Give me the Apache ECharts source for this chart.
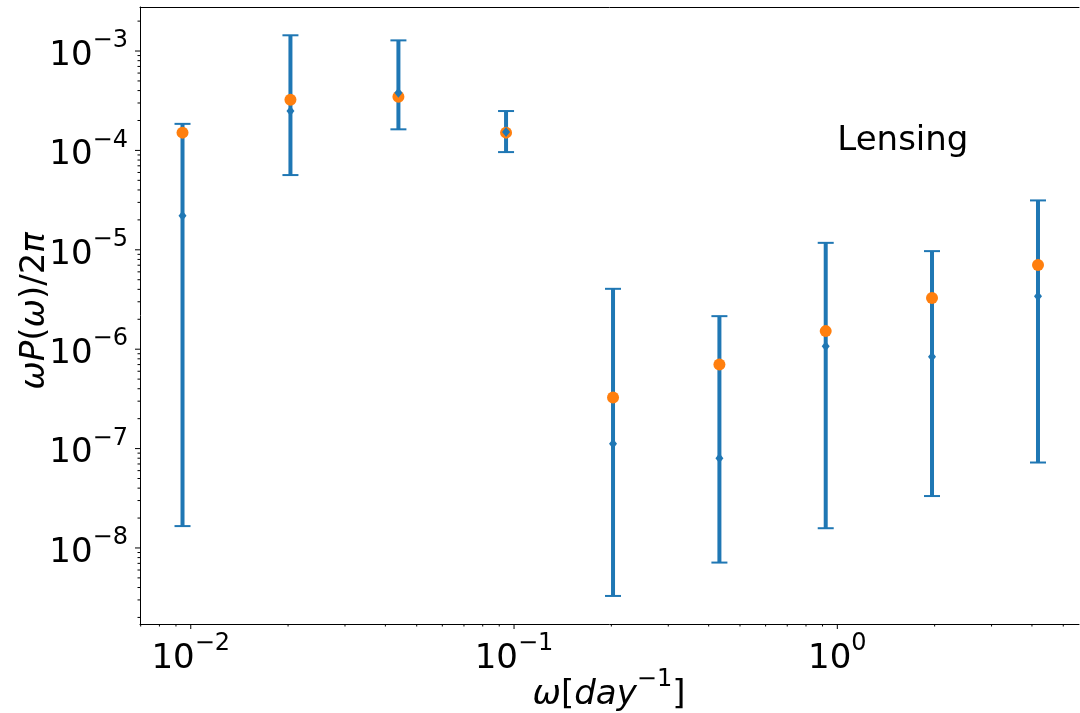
<!DOCTYPE html>
<html>
<head>
<meta charset="utf-8">
<script src="https://cdn.jsdelivr.net/npm/echarts@6/dist/echarts.min.js"></script>
<style>
html,body{margin:0;padding:0;background:#fff;}
#chart{width:1080px;height:713px;}
</style>
</head>
<body>
<div id="chart"></div>
<script>
// ---- data ----
const omega = [0.00943, 0.02034, 0.04389, 0.09447, 0.2024, 0.4318, 0.9207, 1.963, 4.176];
const measured = [2.20e-5, 2.49e-4, 3.80e-4, 1.53e-4, 1.12e-7, 8.0e-8, 1.07e-6, 8.37e-7, 3.40e-6];
const errLower = [1.66e-8, 5.65e-5, 1.63e-4, 9.62e-5, 3.29e-9, 7.13e-9, 1.58e-8, 3.33e-8, 7.24e-8];
const errUpper = [1.85e-4, 1.44e-3, 1.28e-3, 2.49e-4, 4.05e-6, 2.15e-6, 1.175e-5, 9.7e-6, 3.14e-5];
const model = [1.51e-4, 3.24e-4, 3.47e-4, 1.51e-4, 3.27e-7, 7.02e-7, 1.52e-6, 3.27e-6, 7.02e-6];

// axis ranges and tick labels (exponents of 10)
const xMin = Math.pow(10, -2.157), xMax = Math.pow(10, 0.7476);
const yMin = Math.pow(10, -8.765), yMax = Math.pow(10, -2.557);
const xTickExps = [-2, -1, 0];
const yTickExps = [-8, -7, -6, -5, -4, -3];
const annotation = 'Lensing';
const annotationAt = [1, 1e-4];

// tick positions (axis decoration)
const xMajorTicks = xTickExps.map(e => Math.pow(10, e));
const yMajorTicks = yTickExps.map(e => Math.pow(10, e));
const xMinorTicks = [], yMinorTicks = [];
for (let e = -3; e <= 1; e++) for (let m = 2; m <= 9; m++) {
  const v = m * Math.pow(10, e);
  if (v >= xMin * 0.999 && v <= xMax) xMinorTicks.push(v);
}
for (let e = -9; e <= -2; e++) for (let m = 2; m <= 9; m++) {
  const v = m * Math.pow(10, e);
  if (v >= yMin && v <= yMax) yMinorTicks.push(v);
}

const FONT = 'DejaVu Sans';
const BLUE = '#1f77b4', ORANGE = '#ff7f0e';

function expLabel(exps) {
  return function (value) {
    const e = Math.log10(value);
    const r = Math.round(e);
    if (Math.abs(e - r) > 1e-6 || exps.indexOf(r) < 0) return '';
    return '{b|10}{s|' + (r < 0 ? '\u2212' + (-r) : r) + '}';
  };
}
const supRich = {
  b: {fontFamily: FONT, fontSize: 34, color: '#000', lineHeight: 44, verticalAlign: 'bottom'},
  s: {fontFamily: FONT, fontSize: 24, color: '#000', lineHeight: 44, verticalAlign: 'top'}
};

function tickSeries(values, isX, len) {
  return {
    type: 'custom', silent: true, clip: false, z: 10,
    data: values.map(v => isX ? [v, yMin] : [xMin, v]),
    encode: {x: 0, y: 1},
    renderItem: function (params, api) {
      const p = api.coord([api.value(0), api.value(1)]);
      const shape = isX ? {x1: p[0], y1: p[1], x2: p[0], y2: p[1] + len}
                        : {x1: p[0] - len, y1: p[1], x2: p[0], y2: p[1]};
      return {type: 'line', shape: shape, style: {stroke: '#000', lineWidth: 1}};
    }
  };
}

const chart = echarts.init(document.getElementById('chart'), null, {renderer: 'canvas'});
chart.setOption({
  animation: false,
  backgroundColor: '#fff',
  grid: {left: 140, right: 1, top: 7, bottom: 89, containLabel: false},
  xAxis: [{
    type: 'log', logBase: 10, min: xMin, max: xMax,
    axisLine: {show: true, lineStyle: {color: '#000', width: 1}},
    axisTick: {show: false}, minorTick: {show: false},
    splitLine: {show: false},
    axisLabel: {margin: 8, formatter: expLabel(xTickExps), rich: supRich, showMinLabel: false, showMaxLabel: false}
  }, {
    type: 'log', logBase: 10, min: xMin, max: xMax, position: 'top',
    axisLine: {show: true, onZero: false, lineStyle: {color: '#000', width: 1}},
    axisTick: {show: false}, axisLabel: {show: false}, splitLine: {show: false}
  }],
  yAxis: {
    type: 'log', logBase: 10, min: yMin, max: yMax,
    axisLine: {show: true, lineStyle: {color: '#000', width: 1}},
    axisTick: {show: false}, minorTick: {show: false},
    splitLine: {show: false},
    axisLabel: {margin: 12, formatter: expLabel(yTickExps), rich: supRich, showMinLabel: false, showMaxLabel: false}
  },
  series: [
    tickSeries(xMajorTicks, true, 5),
    tickSeries(xMinorTicks, true, 2.5),
    tickSeries(yMajorTicks, false, 5),
    tickSeries(yMinorTicks, false, 2.5),
    {
      type: 'custom', silent: true, z: 2,
      data: omega.map((x, i) => [x, errLower[i], errUpper[i]]),
      encode: {x: 0, y: [1, 2]},
      renderItem: function (params, api) {
        const x = api.value(0);
        const top = api.coord([x, api.value(2)]);
        const bot = api.coord([x, api.value(1)]);
        const cap = 8;
        return {type: 'group', children: [
          {type: 'line', shape: {x1: top[0], y1: top[1], x2: bot[0], y2: bot[1]}, style: {stroke: BLUE, lineWidth: 4}},
          {type: 'line', shape: {x1: top[0] - cap, y1: top[1], x2: top[0] + cap, y2: top[1]}, style: {stroke: BLUE, lineWidth: 2}},
          {type: 'line', shape: {x1: bot[0] - cap, y1: bot[1], x2: bot[0] + cap, y2: bot[1]}, style: {stroke: BLUE, lineWidth: 2}}
        ]};
      }
    },
    {
      type: 'scatter', z: 3, symbol: 'circle', symbolSize: 12,
      itemStyle: {color: ORANGE, opacity: 1},
      data: omega.map((x, i) => [x, model[i]])
    },
    {
      type: 'scatter', z: 4, symbol: 'diamond', symbolSize: [8, 10],
      itemStyle: {color: BLUE, opacity: 1},
      data: omega.map((x, i) => [x, measured[i]])
    }
  ]
});
// annotation placed at data coordinates through the library's scales
const ap = chart.convertToPixel({gridIndex: 0}, annotationAt);
chart.setOption({
  graphic: [
    {
      id: 'xname', type: 'text', x: 609, y: 690,
      style: {
        text: '{i|\u03c9}{r|[}{i|day}{s|\u22121}{r|]}',
        align: 'center', verticalAlign: 'middle',
        rich: {
          i: {fontFamily: FONT, fontStyle: 'italic', fontSize: 34, fill: '#000', lineHeight: 44, verticalAlign: 'bottom'},
          r: {fontFamily: FONT, fontSize: 34, fill: '#000', lineHeight: 44, verticalAlign: 'bottom'},
          s: {fontFamily: FONT, fontSize: 24, fill: '#000', lineHeight: 44, verticalAlign: 'top'}
        }
      }
    },
    {
      id: 'yname', type: 'text', x: 35, y: 311, rotation: Math.PI / 2,
      style: {
        text: '{i|\u03c9P}{r|(}{i|\u03c9}{r|)/2}{i|\u03c0}',
        align: 'center', verticalAlign: 'middle',
        rich: {
          i: {fontFamily: FONT, fontStyle: 'italic', fontSize: 34, fill: '#000'},
          r: {fontFamily: FONT, fontSize: 34, fill: '#000'}
        }
      }
    },
    {
      id: 'note', type: 'text', x: ap[0], y: ap[1] + 8, z: 20,
      style: {text: annotation, fontFamily: FONT, fontSize: 34, fill: '#000', align: 'left', verticalAlign: 'bottom'}
    }
  ]
});
</script>
</body>
</html>
